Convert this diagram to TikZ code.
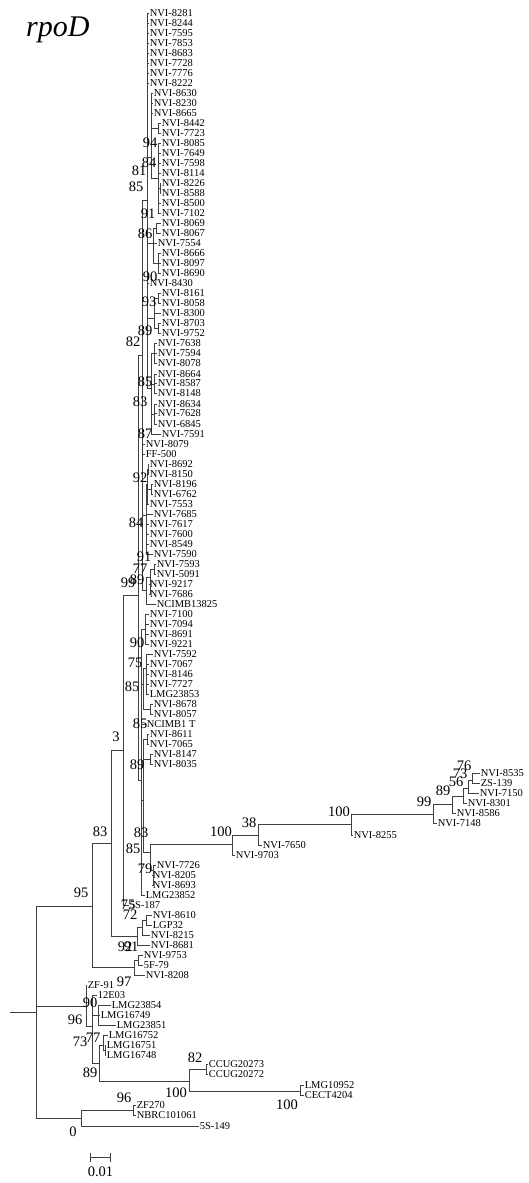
\documentclass[tikz,border=0pt]{standalone}
\usepackage{fontspec}
\setmainfont{Liberation Serif}
\usetikzlibrary{arrows.meta}
\newcommand{\leaffont}{\fontsize{10.5}{10.5}\selectfont}
\newcommand{\bsfont}{\fontsize{14.5}{14.5}\selectfont}
\tikzset{
  br/.style={line width=0.8pt, draw=black!75},
  leaf/.style={anchor=west, inner sep=0.6pt, font=\leaffont},
  bs/.style={inner sep=0pt, font=\bsfont},
}

\begin{document}
\begin{tikzpicture}[x=1pt, y=-1pt]
    \useasboundingbox (0,0) rectangle (529,1183);

    % Title
    \node[anchor=base west, inner sep=0pt, font=\fontsize{30}{30}\selectfont\itshape] (title) at (26,36) {rpoD};

    % Leaves (name/tip/y/label)
    \foreach \n/\x/\y/\t in {
        a1/149/13/NVI-8281, a2/149/23/NVI-8244, a3/149/33/NVI-7595, a4/149/43/NVI-7853,
        a5/149/53/NVI-8683, a6/149/63/NVI-7728, a7/149/73/NVI-7776, a8/149/83/NVI-8222,
        b1/153/93/NVI-8630, b2/153/103/NVI-8230, b3/153/113/NVI-8665,
        c1/161/123/NVI-8442, c2/161/133/NVI-7723,
        d1/161/143/NVI-8085, d2/161/153/NVI-7649, d3/161/163/NVI-7598, d4/161/173/NVI-8114,
        d5/161/183/NVI-8226, d6/161/193/NVI-8588, d7/161/203/NVI-8500, d8/161/213/NVI-7102,
        e1/161/223/NVI-8069, e2/161/233/NVI-8067, e3/157/243/NVI-7554,
        f1/161/253/NVI-8666, f2/161/263/NVI-8097, f3/161/273/NVI-8690,
        g1/149/283/NVI-8430,
        h1/161/293/NVI-8161, h2/161/303/NVI-8058, h3/161/313/NVI-8300,
        h4/161/323/NVI-8703, h5/161/333/NVI-9752,
        i1/157/343/NVI-7638, i2/157/353/NVI-7594, i3/157/363/NVI-8078,
        i4/157/374/NVI-8664, i5/157/383/NVI-8587, i6/157/393/NVI-8148,
        i7/157/404/NVI-8634, i8/157/413/NVI-7628, i9/157/424/NVI-6845, i10/161/434/NVI-7591,
        j1/145/444/NVI-8079, j2/145/454/FF-500,
        k1/149/464/NVI-8692, k2/149/474/NVI-8150, k3/153/484/NVI-8196, k4/153/494/NVI-6762,
        k10/149/504/NVI-7553, k5/153/514/NVI-7685, k6/149/524/NVI-7617, k7/149/534/NVI-7600,
        k8/149/544/NVI-8549, k9/153/554/NVI-7590,
        m1/156/564/NVI-7593, m2/156/574/NVI-5091, m3/149/584/NVI-9217, m4/149/594/NVI-7686,
        m6/156/604/NCIMB13825,
        p1/149/614/NVI-7100, p2/149/624/NVI-7094, p3/149/634/NVI-8691, p4/149/644/NVI-9221,
        q1/153/654/NVI-7592, q2/149/664/NVI-7067, q3/149/674/NVI-8146, q4/149/684/NVI-7727,
        q5/149/694/LMG23853, q6/153/704/NVI-8678, q7/153/714/NVI-8057,
        o1/146/724/NCIMB1 T,
        r1/149/734/NVI-8611, r2/149/744/NVI-7065, r3/153/754/NVI-8147, r4/153/764/NVI-8035,
        t1/156/865/NVI-7726, t2/152/875/NVI-8205, t3/152/885/NVI-8693,
        o2/145/895/LMG23852, u1/129/905/5S-187,
        v1/152/915/NVI-8610, v2/152/925/LGP32, v3/150/935/NVI-8215, v4/150/945/NVI-8681,
        w1/143/955/NVI-9753, w2/143/965/5F-79, w3/145/975/NVI-8208,
        x1/87/985/ZF-91, x2/97/995/12E03, x3/111/1005/LMG23854, x4/100/1015/LMG16749,
        x5/116/1025/LMG23851, x6/108/1035/LMG16752, x7/106/1045/LMG16751, x8/106/1055/LMG16748,
        y1/208/1064/CCUG20273, y2/208/1074/CCUG20272, y3/304/1085/LMG10952, y4/304/1095/CECT4204,
        z1/136/1105/ZF270, z2/136/1115/NBRC101061, z3/199/1126/5S-149,
        s8535/480/773/NVI-8535, s139/480/783/ZS-139, s7150/479/793/NVI-7150,
        s8301/467/803/NVI-8301, s8586/456/813/NVI-8586, s7148/437/823/NVI-7148,
        s8255/353/835/NVI-8255, s7650/262/845/NVI-7650, s9703/235/855/NVI-9703}
        \node[leaf] (\n) at (\x,\y) {\t};

    % Internal nodes
    \foreach \n/\x/\y in {
        root/36/1012, n95/92/906, n83/111/843, n3/123/750, nTop/138/595,
        n82/142/355, n85a/147/200, nB/151/157, n8442/158/128, n94/158/178, n8226/160/188,
        n86/153/243, n91/156/228, n90/158/263, n89/154/318, n93/158/298, n8703/158/328,
        n85b/151/388, n7638/154/353, n8664/154/384, n83b/154/414,
        n84/146/515, n92/147/484, n8692/148/469, n8196/151/489,
        n89b/146/590, n77/150/577, n7593/154/569,
        nLow/141/780, n90c/145/629, n85e/143/684, n75/146/668, n8678/150/709,
        n89c/143/800, n7065/147/739, n8147/150/759, n83c/150/852, n79/153/870,
        n100a/232/844, n38/258/835, n100b/351/824, n99/433/814, n89d/452/804,
        n56/463/796, n73/468/788, n76/472/780,
        n92b/137/936, n72/142/927, nLG/146/920, n97/134/967, nV/138/960,
        n96/86/1006, n73b/92/1026, n90d/98/1015, n89e/99/1063, n77b/103/1045, nL16/105/1050,
        n100c/189/1081, n82b/206/1069, n100d/300/1091, n0/81/1118, n96b/133/1110}
        \coordinate (\n) at (\x,\y);

    % Branches
    \coordinate (stub) at (10,1012);
    \draw[br] (stub) -- (root);
    \foreach \p/\c in {
        root/n95, root/n96, root/n0, n95/n83, n95/n97, n83/n3, n83/n92b,
        n3/nTop, n3/u1, nTop/n82, nTop/nLow,
        n82/n85a, n82/j1, n82/j2, n82/n84, n82/n89b,
        n85a/a1, n85a/a2, n85a/a3, n85a/a4, n85a/a5, n85a/a6, n85a/a7, n85a/a8,
        n85a/nB, n85a/n86, n85a/g1, n85a/n89, n85a/n85b,
        nB/b1, nB/b2, nB/b3, nB/n8442, nB/n94, n8442/c1, n8442/c2,
        n94/d1, n94/d2, n94/d3, n94/d4, n94/n8226, n94/d7, n94/d8, n8226/d5, n8226/d6,
        n86/n91, n86/e3, n86/n90, n91/e1, n91/e2, n90/f1, n90/f2, n90/f3,
        n89/n93, n89/h3, n89/n8703, n93/h1, n93/h2, n8703/h4, n8703/h5,
        n85b/n7638, n85b/n8664, n85b/n83b, n85b/i10,
        n7638/i1, n7638/i2, n7638/i3, n8664/i4, n8664/i5, n8664/i6, n83b/i7, n83b/i8, n83b/i9,
        n84/n92, n84/k5, n84/k6, n84/k7, n84/k8, n84/k9,
        n92/n8692, n92/n8196, n92/k10, n8692/k1, n8692/k2, n8196/k3, n8196/k4,
        n89b/n77, n89b/m6, n77/n7593, n77/m3, n77/m4, n7593/m1, n7593/m2,
        nLow/n90c, nLow/n85e, nLow/o1, nLow/n89c, nLow/o2,
        n90c/p1, n90c/p2, n90c/p3, n90c/p4, n85e/n75, n85e/n8678,
        n75/q1, n75/q2, n75/q3, n75/q4, n75/q5, n8678/q6, n8678/q7,
        n89c/n7065, n89c/n8147, n89c/n83c, n7065/r1, n7065/r2, n8147/r3, n8147/r4,
        n83c/n100a, n83c/n79, n79/t1, n79/t2, n79/t3,
        n100a/n38, n100a/s9703, n38/n100b, n38/s7650, n100b/n99, n100b/s8255,
        n99/n89d, n99/s7148, n89d/n56, n89d/s8586, n56/n73, n56/s8301,
        n73/n76, n73/s7150, n76/s8535, n76/s139,
        n92b/n72, n92b/v4, n72/nLG, n72/v3, nLG/v1, nLG/v2,
        n97/nV, n97/w3, nV/w1, nV/w2,
        n96/x1, n96/n73b, n73b/x2, n73b/n90d, n73b/n89e, n90d/x3, n90d/x4, n90d/x5,
        n89e/n77b, n89e/n100c, n77b/x6, n77b/nL16, nL16/x7, nL16/x8,
        n100c/n82b, n100c/n100d, n82b/y1, n82b/y2, n100d/y3, n100d/y4,
        n0/n96b, n0/z3, n96b/z1, n96b/z2}
        \draw[br] (\p) |- (\c);

    % Bootstrap values
    \foreach \n/\x/\y/\t in {
        bs1/150/143/94, bs2/149/163/84, bs3/139/171/81, bs4/136/187/85, bs5/148/214/91,
        bs6/145/234/86, bs7/150/277/90, bs8/149/302/93, bs9/145/331/89, bs10/133/342/82,
        bs11/145/382/85, bs12/140/402/83, bs13/145/434/87, bs14/140/478/92, bs15/136/523/84,
        bs16/144/557/91, bs17/140/569/77, bs18/128/583/99, bs19/137/580/89, bs20/137/643/90,
        bs21/135/663/75, bs22/132/687/85, bs23/140/724/85, bs24/116/737/3, bs25/137/765/89,
        bs26/141/833/83, bs27/133/849/85, bs28/145/869/79, bs29/128/905/75, bs30/130/915/72,
        bs31/125/947/92, bs32/131/947/91, bs33/124/982/97, bs34/81/893/95, bs35/100/832/83,
        bs36/221/832/100, bs37/249/823/38, bs38/339/812/100, bs39/424/802/99, bs40/443/791/89,
        bs41/456/782/56, bs42/460/774/73, bs43/464/766/76, bs44/195/1058/82, bs45/176/1093/100,
        bs46/287/1105/100, bs47/90/1003/90, bs48/75/1020/96, bs49/80/1042/73, bs50/93/1038/77,
        bs51/90/1073/89, bs52/124/1098/96, bs53/73/1132/0}
        \node[bs] (\n) at (\x,\y) {\t};

    % Scale bar
    \coordinate (sbl) at (90,1157);
    \coordinate (sbr) at (111,1157);
    \draw[br, {Bar[width=9pt]}-{Bar[width=9pt]}] (sbl) -- (sbr);
    \node[bs] (sbtext) at (100.5,1172) {0.01};
\end{tikzpicture}
\end{document}
